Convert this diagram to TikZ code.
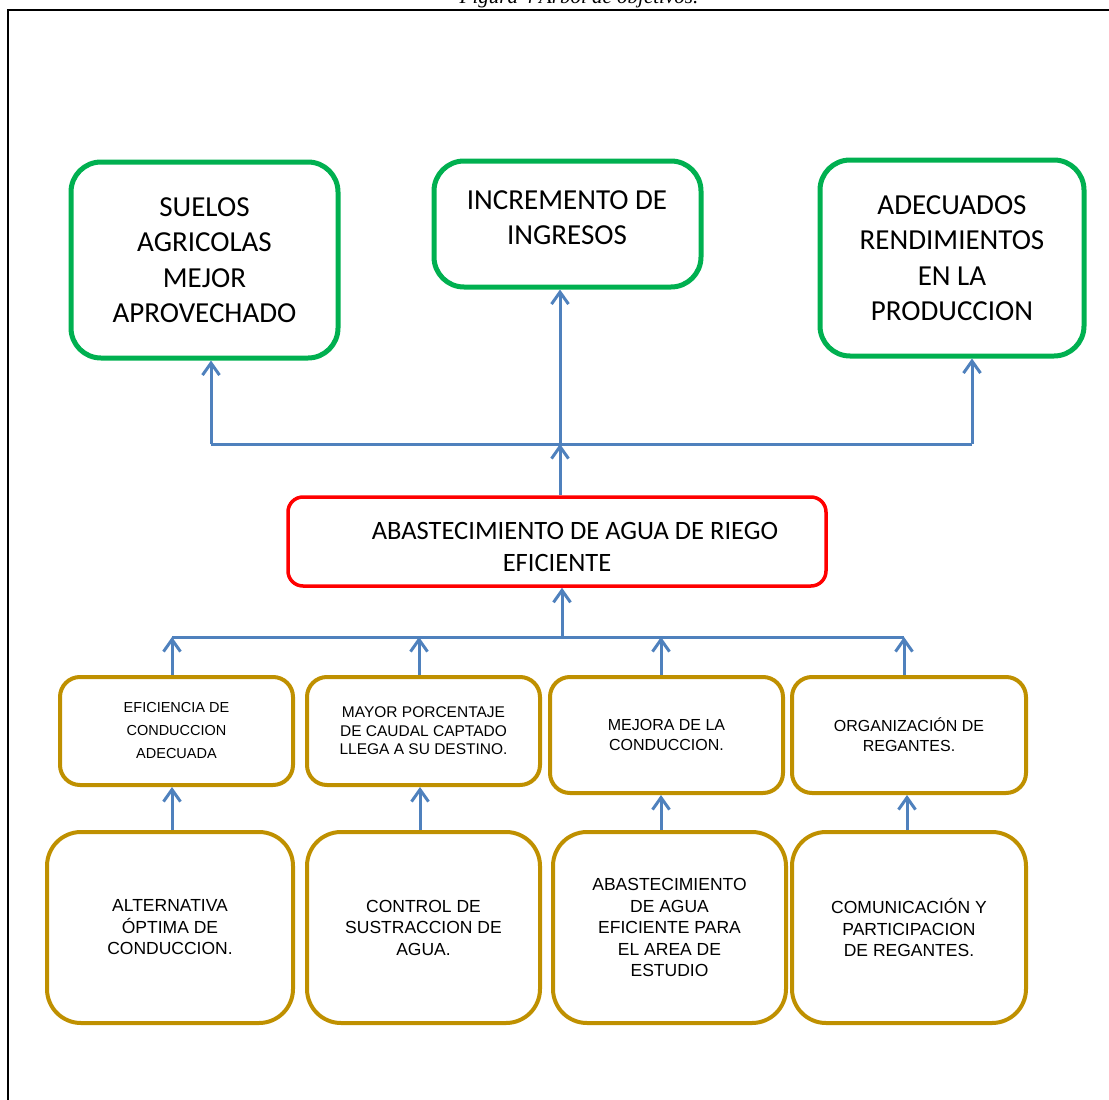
\documentclass[tikz,border=0pt]{standalone}
\usepackage{fontspec}
\setmainfont{Liberation Serif}
\newfontfamily\calib{Carlito}
\newfontfamily\arialf{Liberation Sans}
\usetikzlibrary{arrows.meta}
\definecolor{cgreen}{HTML}{00B050}
\definecolor{cred}{HTML}{FF0000}
\definecolor{cgold}{HTML}{BF9000}
\definecolor{cblue}{HTML}{4F81BD}
\begin{document}
\begin{tikzpicture}[x=1pt,y=-1pt,
  gbox/.style={draw=cgreen, line width=5pt, rounded corners=30pt, align=center, inner sep=0pt,
    font=\calib\fontsize{29}{35.5}\selectfont},
  rbox/.style={draw=cred, line width=3.5pt, rounded corners=15pt, inner sep=0pt},
  mbox/.style={draw=cgold, line width=4pt, rounded corners=20pt, align=center, inner sep=0pt},
  bbox/.style={draw=cgold, line width=4pt, rounded corners=34pt, align=center, inner sep=0pt,
    font=\arialf\fontsize{17.5}{21.5}\selectfont},
  conn/.style={draw=cblue, line width=3pt, -{Straight Barb[length=12pt,width=17pt]}},
  bar/.style={draw=cblue, line width=3pt},
  txt/.style={inner sep=0pt, align=center}]
\useasboundingbox (0,0) rectangle (1109,1100);
% frame and caption
\draw[line width=2pt] (7.5,1110) -- (7.5,10) -- (1120,10);
\node (cap) [anchor=base, inner sep=0pt, font=\itshape\fontsize{21}{25}\selectfont] at (579,4) {Figura 4 Arbol de objetivos.};
% top boxes
\node (G1) [gbox, minimum width=267pt, minimum height=196pt] at (204.5,260) {SUELOS\\AGRICOLAS\\MEJOR\\APROVECHADO};
\node (G2) [gbox, minimum width=267pt, minimum height=126pt] at (567.5,224) {};
\node (G2t) [txt, font=\calib\fontsize{29}{35.5}\selectfont] at (567,217.5) {INCREMENTO DE\\INGRESOS};
\node (G3) [gbox, minimum width=264pt, minimum height=196pt] at (952,258) {ADECUADOS\\RENDIMIENTOS\\EN LA\\PRODUCCION};
% central box
\node (R) [rbox, minimum width=538pt, minimum height=89pt] at (557,541.5) {};
\node (Ra) [txt, font=\calib\fontsize{26.5}{32}\selectfont] at (575,531) {ABASTECIMIENTO DE AGUA DE RIEGO};
\node (Rb) [txt, font=\calib\fontsize{26.5}{32}\selectfont] at (557,563) {EFICIENTE};
% middle boxes
\node (M1) [mbox, minimum width=233pt, minimum height=108pt, font=\arialf\fontsize{14.5}{23}\selectfont] at (176.5,731) {EFICIENCIA DE\\CONDUCCION\\ADECUADA};
\node (M2) [mbox, minimum width=233pt, minimum height=108pt, font=\arialf\fontsize{15.5}{18.5}\selectfont] at (423.5,731) {MAYOR PORCENTAJE\\DE CAUDAL CAPTADO\\LLEGA A SU DESTINO.};
\node (M3) [mbox, minimum width=233pt, minimum height=116pt, font=\arialf\fontsize{16}{20}\selectfont] at (666.5,735) {MEJORA DE LA\\CONDUCCION.};
\node (M4) [mbox, minimum width=234pt, minimum height=116pt, font=\arialf\fontsize{16}{20}\selectfont] at (909,735) {ORGANIZACIÓN DE\\REGANTES.};
% bottom boxes
\node (B1) [bbox, minimum width=246pt, minimum height=191pt] at (170,927.5) {ALTERNATIVA\\ÓPTIMA DE\\CONDUCCION.};
\node (B2) [bbox, minimum width=233pt, minimum height=191pt] at (423.5,927.5) {CONTROL DE\\SUSTRACCION DE\\AGUA.};
\node (B3) [bbox, minimum width=233pt, minimum height=191pt] at (669.5,927.5) {ABASTECIMIENTO\\DE AGUA\\EFICIENTE PARA\\EL AREA DE\\ESTUDIO};
\node (B4) [bbox, minimum width=234pt, minimum height=191pt] at (909,927.5) {COMUNICACIÓN Y\\PARTICIPACION\\DE REGANTES.};
% junction coordinates
\coordinate (jT) at (560,444);
\coordinate (jL) at (211,444);
\coordinate (jR) at (972,444);
\coordinate (jB) at (562,637);
\coordinate (b1) at (172,637);
\coordinate (b2) at (419,637);
\coordinate (b3) at (661,637);
\coordinate (b4) at (904,637);
\coordinate (c1) at (172,0);
\coordinate (c2) at (420,0);
\coordinate (c3) at (661,0);
\coordinate (c4) at (907,0);
% upper connectors
\draw[bar] (jL) -- (jR);
\draw[conn] (R.north -| jT) -- (jT);
\draw[conn] (jT) -- (G2.south -| jT);
\draw[conn] (jL) -- (G1.south -| jL);
\draw[conn] (jR) -- (G3.south -| jR);
% lower connectors
\draw[bar] (b1) -- (b4);
\draw[conn] (jB) -- (R.south -| jB);
\draw[conn] (M1.north -| b1) -- (b1);
\draw[conn] (M2.north -| b2) -- (b2);
\draw[conn] (M3.north -| b3) -- (b3);
\draw[conn] (M4.north -| b4) -- (b4);
% bottom to middle
\draw[conn] (B1.north -| c1) -- (M1.south -| c1);
\draw[conn] (B2.north -| c2) -- (M2.south -| c2);
\draw[conn] (B3.north -| c3) -- (M3.south -| c3);
\draw[conn] (B4.north -| c4) -- (M4.south -| c4);
\end{tikzpicture}
\end{document}
